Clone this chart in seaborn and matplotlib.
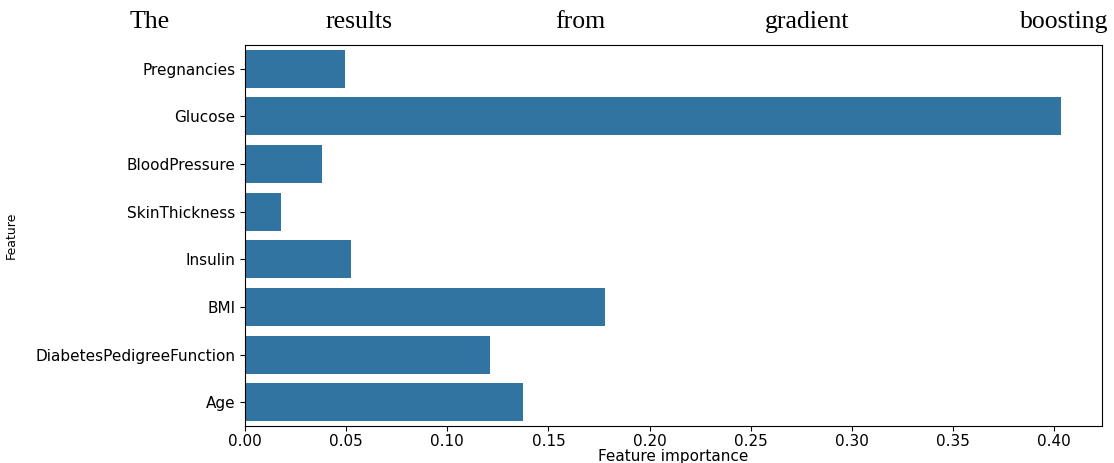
import matplotlib
matplotlib.use("Agg")
import matplotlib.pyplot as plt
import seaborn as sns
import pandas as pd

# feature importances
features = ["Pregnancies", "Glucose", "BloodPressure", "SkinThickness",
            "Insulin", "BMI", "DiabetesPedigreeFunction", "Age"]
importance = [0.0495, 0.4035, 0.038, 0.018, 0.0525, 0.178, 0.121, 0.1376]

# caption line above the figure (justified words)
caption_words = ["The", "results", "from", "gradient", "boosting"]
caption_x = [130, 326, 555, 765, 1108]

df = pd.DataFrame({"Feature": features, "Feature importance": importance})

fig = plt.figure(figsize=(11.14, 4.63), dpi=100)
ax = fig.add_axes([245 / 1114, 1 - 426 / 463, (1102 - 245) / 1114, (426 - 45) / 463])

sns.barplot(data=df, x="Feature importance", y="Feature", color="#1f77b4", ax=ax)

ax.tick_params(labelsize=11)
ax.tick_params(axis="x", pad=2)
ax.set_xlabel("Feature importance", fontsize=11, labelpad=0)
ax.set_ylabel("Feature", fontsize=9)
ax.yaxis.set_label_coords((18 - 245) / 857, 0.5)

for i, (w, x) in enumerate(zip(caption_words, caption_x)):
    fig.text(x / 1114, 1 - 28 / 463, w, fontsize=18.5, family="Liberation Serif",
             ha="right" if i == len(caption_words) - 1 else "left", va="baseline")

fig.savefig("out.png", dpi=100)
